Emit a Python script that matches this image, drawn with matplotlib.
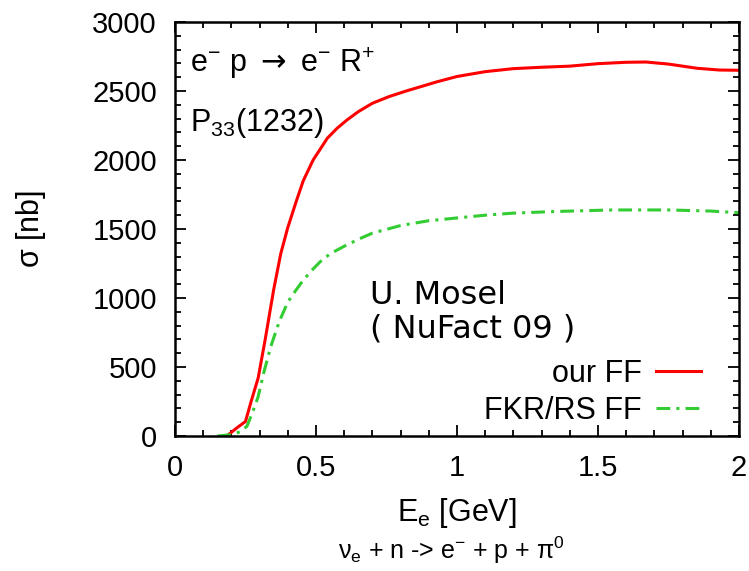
import matplotlib
matplotlib.use("Agg")
import matplotlib.pyplot as plt
from matplotlib.ticker import MultipleLocator

# Data
E_our = [0.19, 0.22, 0.25, 0.27, 0.295, 0.32, 0.35, 0.375, 0.40, 0.43, 0.455, 0.49, 0.54, 0.575,
         0.61, 0.65, 0.70, 0.76, 0.82, 0.93, 1.00, 1.10, 1.20, 1.30, 1.40, 1.50, 1.60, 1.67, 1.75,
         1.85, 1.93, 2.00]
sig_our = [10, 60, 105, 250, 420, 700, 1060, 1320, 1510, 1700, 1850, 2000, 2157, 2230,
           2290, 2350, 2411, 2460, 2500, 2567, 2605, 2640, 2662, 2672, 2680, 2698, 2708, 2710, 2695,
           2665, 2652, 2650]

E_fkr = [0.15, 0.20, 0.23, 0.255, 0.275, 0.295, 0.315, 0.34, 0.37, 0.40, 0.43, 0.455, 0.485, 0.515,
         0.55, 0.60, 0.65, 0.70, 0.80, 0.90, 1.00, 1.10, 1.20, 1.35, 1.55, 1.75, 1.90, 2.00]
sig_fkr = [0, 10, 30, 70, 170, 285, 460, 650, 830, 970, 1060, 1130, 1200, 1263,
           1320, 1375, 1425, 1470, 1525, 1560, 1580, 1600, 1615, 1627, 1638, 1638, 1630, 1618]

x_ticks = [0, 0.5, 1, 1.5, 2]
x_ticklabels = ["0", "0.5", "1", "1.5", "2"]
y_ticks = [0, 500, 1000, 1500, 2000, 2500, 3000]

fig = plt.figure(figsize=(7.49, 5.71), dpi=100)
ax = fig.add_axes([0.2336, 0.2364, 0.9866 - 0.2336, 0.9615 - 0.2364])

lab_font = "Liberation Sans"
fs = 21

ax.plot(E_our, sig_our, color="#ff0000", lw=2.2, label="our FF")
ax.plot(E_fkr, sig_fkr, color="#33cc33", lw=2.2, ls=(0, (4.5, 2, 1, 2)), label="FKR/RS FF")

ax.set_xlim(0, 2)
ax.set_ylim(0, 3000)
ax.set_xticks(x_ticks)
ax.set_xticklabels(x_ticklabels)
ax.set_yticks(y_ticks)
ax.xaxis.set_minor_locator(MultipleLocator(0.1))
ax.yaxis.set_minor_locator(MultipleLocator(100))
ax.tick_params(which="both", direction="in", top=True, right=True, width=1.3, color="black")
ax.tick_params(which="major", length=8, labelsize=fs, pad=13)
ax.tick_params(which="minor", length=4)
for lab in ax.get_xticklabels() + ax.get_yticklabels():
    lab.set_fontfamily(lab_font)
for s in ax.spines.values():
    s.set_linewidth(1.8)

ax.set_xlabel(r"E$_\mathregular{e}$ [GeV]", fontsize=fs + 1, family=lab_font, labelpad=10)
ax.set_ylabel(r"$\mathregular{\sigma}$ [nb]", fontsize=fs + 1, family=lab_font, labelpad=32)

ax.text(0.027, 0.90, r"e$^\mathregular{-}$ p $\rightarrow$ e$^\mathregular{-}$ R$^\mathregular{+}$",
        transform=ax.transAxes, fontsize=fs + 1, family=lab_font,
        va="center", ha="left")
ax.text(0.027, 0.755, r"P$_\mathregular{33}$(1232)", transform=ax.transAxes,
        fontsize=fs + 1, family=lab_font, va="center", ha="left")

ax.text(0.345, 0.30, "U. Mosel\n( NuFact 09 )", transform=ax.transAxes,
        fontsize=23, family="DejaVu Sans", va="center", ha="left", linespacing=1.1)

leg = ax.legend(loc="lower right", bbox_to_anchor=(0.955, -0.005), frameon=False,
                markerfirst=False, handlelength=1.5, handletextpad=0.45,
                labelspacing=0.22, borderaxespad=0.0,
                prop={"family": lab_font, "size": fs + 1})
for t in leg.get_texts():
    t.set_ha("right")

fig.text(0.603, 0.037,
         r"$\mathregular{\nu}_\mathregular{e}$ + n -> e$^\mathregular{-}$ + p + $\mathregular{\pi}^\mathregular{0}$",
         fontsize=18, family=lab_font, ha="center", va="center")

fig.savefig("out.png", dpi=100)
